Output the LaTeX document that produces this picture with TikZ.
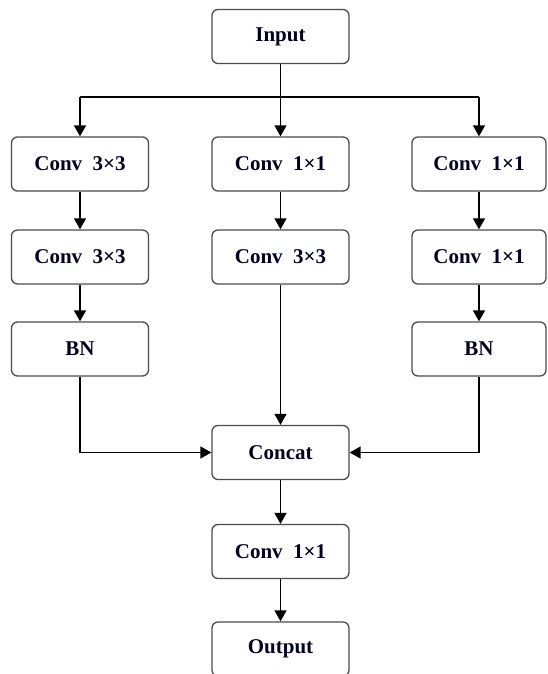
\documentclass[tikz,border=0pt]{standalone}
\usepackage{fontspec}
\setmainfont{Liberation Serif}
\usetikzlibrary{arrows.meta}
\tikzset{
  blk/.style={draw=black!70, line width=1.3pt, rounded corners=6pt, fill=white,
    minimum width=137pt, minimum height=54pt, inner sep=0pt,
    font=\fontsize{21}{24}\selectfont\bfseries, text=black!85!blue},
  conn/.style={line width=1.4pt, black, -{Triangle[length=11pt,width=12pt]}},
  wire/.style={line width=1.4pt, black}
}
\begin{document}
\begin{tikzpicture}[x=1pt,y=-1pt]
\useasboundingbox[fill=white] (0,0) rectangle (547,674);
\clip (0,0) rectangle (547,674);
\node[blk] (in) at (280.5,36.5) {Input};
\node[blk] (a1) at (80,164) {Conv\hspace{0.5em}3×3};
\node[blk] (b1) at (280.5,164) {Conv\hspace{0.5em}1×1};
\node[blk, minimum width=134pt] (c1) at (479,164) {Conv\hspace{0.5em}1×1};
\node[blk] (a2) at (80,257) {Conv\hspace{0.5em}3×3};
\node[blk] (b2) at (280.5,257) {Conv\hspace{0.5em}3×3};
\node[blk, minimum width=134pt] (c2) at (479,257) {Conv\hspace{0.5em}1×1};
\node[blk] (a3) at (80,349) {BN};
\node[blk, minimum width=134pt] (c3) at (479,349) {BN};
\node[blk] (cat) at (280.5,452.5) {Concat};
\node[blk] (cv) at (280.5,551.5) {Conv\hspace{0.5em}1×1};
\node[blk] (out) at (280.5,649) {Output};
\coordinate (hl) at (80,97);
\coordinate (hr) at (479,97);
\coordinate (hm) at (280.5,97);
\draw[wire] (in.south) -- (hm);
\draw[wire] (hl) -- (hr);
\draw[conn] (hl) -- (a1.north);
\draw[conn] (hm) -- (b1.north);
\draw[conn] (hr) -- (c1.north);
\draw[conn] (a1) -- (a2);
\draw[conn] (b1) -- (b2);
\draw[conn] (c1) -- (c2);
\draw[conn] (a2) -- (a3);
\draw[conn] (c2) -- (c3);
\draw[conn] (b2) -- (cat);
\draw[conn] (a3.south) |- (cat.west);
\draw[conn] (c3.south) |- (cat.east);
\draw[conn] (cat) -- (cv);
\draw[conn] (cv) -- (out);
\end{tikzpicture}
\end{document}
